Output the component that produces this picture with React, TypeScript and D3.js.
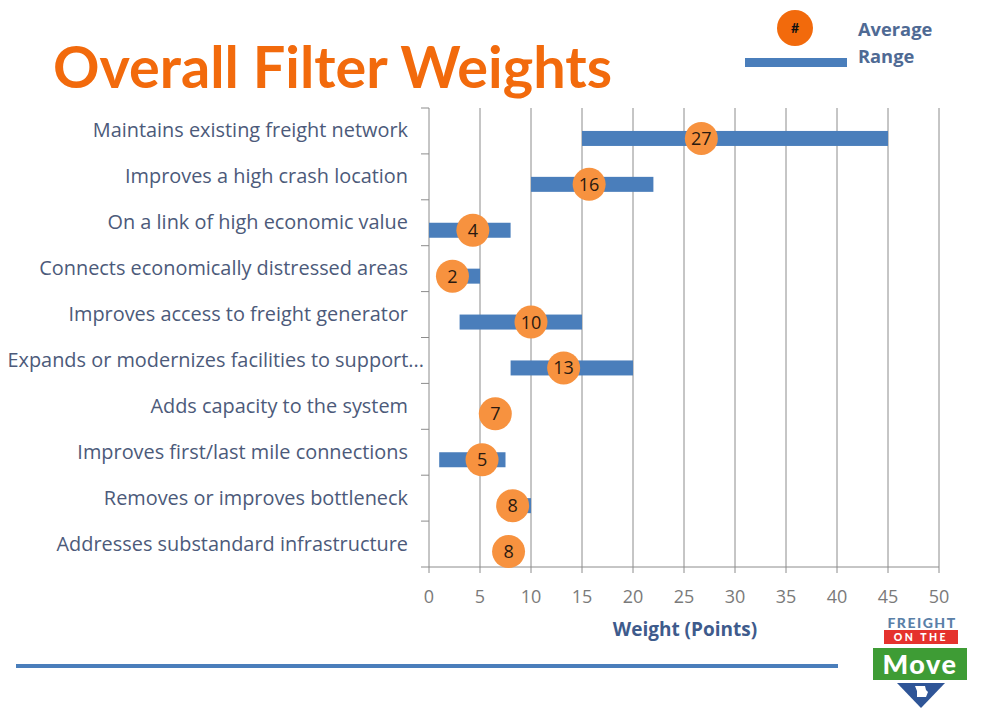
import React from "react";
import * as d3 from "d3";

const categories = [
  "Maintains existing freight network",
  "Improves a high crash location",
  "On a link of high economic value",
  "Connects economically distressed areas",
  "Improves access to freight generator",
  "Expands or modernizes facilities to support...",
  "Adds capacity to the system",
  "Improves first/last mile connections",
  "Removes or improves bottleneck",
  "Addresses substandard infrastructure",
];
const rangeMin = [15, 10, 0, 1, 3, 8, 6.6, 1, 7, 7.8];
const rangeMax = [45, 22, 8, 5, 15, 20, 6.6, 7.5, 10, 7.8];
const averages = [26.7, 15.7, 4.3, 2.3, 10, 13.2, 6.5, 5.2, 8.2, 7.8];
const avgLabels = ["27", "16", "4", "2", "10", "13", "7", "5", "8", "8"];
const xTicks = [0, 5, 10, 15, 20, 25, 30, 35, 40, 45, 50];

const FONT = "Lato, 'Open Sans', sans-serif";
const SANS = "'Open Sans', Lato, sans-serif";
const BLUE = "#4A7EBB";
const ORANGE = "#F7923F";
const LABEL = "#4C5A7A";

export default function App() {
  const W = 995, H = 708;
  const left = 429, right = 939, top = 108, bottom = 567;
  const x = d3.scaleLinear().domain([0, 50]).range([left, right]);
  const y = d3.scaleBand<string>().domain(categories).range([top, bottom]);
  const bw = y.bandwidth();
  const off = 7.5;

  return (
    <svg width={W} height={H} style={{ position: "absolute", left: 0, top: 0, background: "#fff" }}>
      <rect x={0} y={0} width={W} height={H} fill="#fff" />
      {/* Title */}
      <text x={53} y={88} fontFamily={FONT} fontWeight={700} fontSize={57} fill="#F26A0C"
        textLength={559} lengthAdjust="spacingAndGlyphs">Overall Filter Weights</text>

      {/* Legend */}
      <circle cx={795} cy={28} r={18} fill="#F26A0C" />
      <text x={795} y={33} textAnchor="middle" fontFamily={FONT} fontWeight={700} fontSize={14} fill="#111">#</text>
      <rect x={745} y={58} width={102} height={9} fill={BLUE} />
      <text x={858} y={36} fontFamily={SANS} fontWeight={700} fontSize={18.3} fill="#4F6A94">Average</text>
      <text x={858} y={63} fontFamily={SANS} fontWeight={700} fontSize={18.3} fill="#4F6A94">Range</text>

      {/* Gridlines */}
      {xTicks.slice(1).map((t) => (
        <line key={"g" + t} x1={x(t)} x2={x(t)} y1={top} y2={bottom} stroke="#8C8C8C" strokeWidth={1} />
      ))}
      {/* Y axis */}
      <line x1={left} x2={left} y1={top} y2={bottom} stroke="#8C8C8C" strokeWidth={1} />
      {d3.range(categories.length + 1).map((i) => (
        <line key={"yt" + i} x1={left - 8} x2={left} y1={top + i * bw} y2={top + i * bw} stroke="#8C8C8C" />
      ))}
      {/* X axis */}
      <line x1={left} x2={right} y1={bottom} y2={bottom} stroke="#8C8C8C" strokeWidth={1} />
      {xTicks.map((t) => (
        <g key={"xt" + t}>
          <line x1={x(t)} x2={x(t)} y1={bottom} y2={bottom + 6} stroke="#8C8C8C" />
          <text x={x(t)} y={bottom + 36} textAnchor="middle" fontFamily={SANS} fontSize={18} fill="#7A7A7A">{t}</text>
        </g>
      ))}
      <text x={685} y={636} textAnchor="middle" fontFamily={SANS} fontWeight={700} fontSize={19} fill="#3E5B8C">Weight (Points)</text>

      {/* Category labels */}
      {categories.map((c) => (
        <text key={c} x={c.endsWith("...") ? 424 : 408} y={(y(c) as number) + bw / 2 + 6.5} textAnchor="end" fontFamily={SANS} fontSize={19.9} fill={LABEL}>{c}</text>
      ))}

      {/* Range bars */}
      {categories.map((c, i) => (
        <rect key={"b" + i} x={x(rangeMin[i])} width={Math.max(0, x(rangeMax[i]) - x(rangeMin[i]))}
          y={(y(c) as number) + bw / 2 + off - 7.5} height={15} fill={BLUE} />
      ))}
      {/* Average circles */}
      {categories.map((c, i) => {
        const cy = (y(c) as number) + bw / 2 + off;
        return (
          <g key={"a" + i}>
            <circle cx={x(averages[i])} cy={cy} r={16.5} fill={ORANGE} />
            <text x={x(averages[i])} y={cy + 6.5} textAnchor="middle" fontFamily={SANS} fontSize={18} fill="#2A1A10">{avgLabels[i]}</text>
          </g>
        );
      })}

      {/* Bottom line */}
      <rect x={16} y={664} width={822} height={4} fill="#4A7EBB" />

      {/* Logo */}
      <text x={922} y={628} textAnchor="middle" fontFamily={FONT} fontWeight={900} fontSize={14} letterSpacing={1.5} fill="#5A80A8">FREIGHT</text>
      <rect x={884} y={630} width={74} height={14} fill="#E5322D" />
      <text x={921} y={641} textAnchor="middle" fontFamily={FONT} fontWeight={900} fontSize={10.5} letterSpacing={2.5} fill="#fff">ON THE</text>
      <rect x={873} y={648} width={94} height={32} fill="#3E9C35" />
      <text x={920} y={674} textAnchor="middle" fontFamily={FONT} fontWeight={900} fontSize={27} letterSpacing={1.5} fill="#fff">Move</text>
      <path d="M897,683 L945,683 L921,708 Z" fill="#2F5597" />
      <path d="M915,686 L925,686 L926,690 L928,692 L926,697 L917,697 L917,691 Z" fill="#fff" />
    </svg>
  );
}
